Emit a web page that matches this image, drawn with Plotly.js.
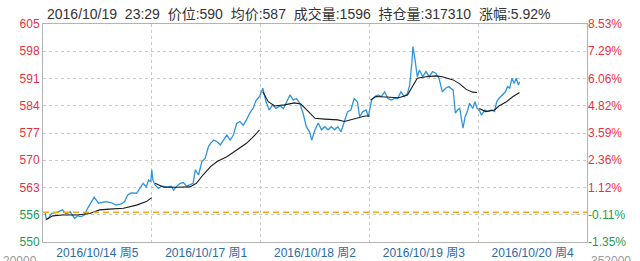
<!DOCTYPE html>
<html>
<head>
<meta charset="utf-8">
<script src="https://cdn.plot.ly/plotly-3.0.1.min.js"></script>
<style>html,body{margin:0;padding:0;background:#fff;}#chart{width:640px;height:261px;}</style>
</head>
<body>
<div id="chart"></div>
<script>
// ---- data ----
const dayLabels = ['2016/10/14 周5', '2016/10/17 周1', '2016/10/18 周2', '2016/10/19 周3', '2016/10/20 周4'];
const prevClose = 557.5;
const yMin = 550, yMax = 605;
const priceTickLabels = ['550', '556', '563', '570', '577', '584', '591', '598', '605'];
const pctTickLabels = ['-1.35%', '-0.11%', '1.12%', '2.36%', '3.59%', '4.82%', '6.06%', '7.29%', '8.53%'];
const bottomLeftLabel = '20000';
const bottomRightLabel = '352000';
const headerText = '2016/10/19\u00a0\u00a023:29\u00a0\u00a0价位:590\u00a0\u00a0均价:587\u00a0\u00a0成交量:1596\u00a0\u00a0持仓量:317310\u00a0\u00a0涨幅:5.92%';

// time index: each trading day spans 100 units
const priceX = [
  2,3,5,8,12,18,21,25,29,32,35,38,41,44,47,51,54,58,63,67,72,75,78,81,86,89,92,95,97,99,100,
  101,103,106,109,114,118,120,123,126,129,132,135,138,140,143,146,149,152,154,157,160,163,166,169,172,175,178,181,184,187,190,193,196,199,
  202,205,208,211,214,218,221,224,227,230,233,236,239,242,245,247,250,253,256,259,262,265,268,271,274,277,280,283,286,289,291,294,297,299,
  302,305,308,311,314,317,320,323,326,329,332,335,337,339,340,342,344,346,349,352,355,358,361,364,367,370,373,377,379,381,383,386,388,390,392,395,397,399,
  401,403,406,409,412,415,417,419,422,425,427,429,431,433,435,437,438
];
const priceY = [
  557.6,555.7,556.0,557.2,557.4,558.1,557.1,557.6,556.0,556.6,556.4,556.8,558.5,559.8,561.3,559.8,559.9,560.2,559.9,559.3,559.6,560.2,561.9,562.4,562.3,563.5,564.8,563.9,565.6,565.2,568.2,
  565.6,564.4,563.5,564.1,563.9,564.1,563.1,564.1,564.8,565.0,564.1,564.4,564.8,568.2,566.9,570.3,571.1,574.0,574.9,575.7,575.3,574.5,575.7,577.0,575.7,577.0,579.9,580.4,579.5,580.8,582.5,583.7,585.8,586.7,
  588.8,585.4,583.3,584.6,583.7,584.3,583.7,585.4,587.1,585.8,586.2,585.0,582.5,579.1,577.8,575.7,578.3,580.0,578.3,579.1,578.3,579.1,578.3,579.1,577.8,580.4,582.9,583.3,586.2,585.4,581.6,582.9,583.3,581.6,
  585.8,586.7,587.1,586.7,587.9,586.2,585.8,586.2,586.2,587.9,586.7,587.5,589.6,595.1,599.3,595.9,591.7,593.4,591.7,593.0,591.7,593.0,592.6,591.3,587.9,588.8,589.2,588.3,582.5,583.3,583.7,578.7,581.6,582.9,585.0,583.7,585.4,583.7,
  583.3,582.0,583.3,582.9,583.3,582.9,585.4,586.2,587.1,587.9,589.2,588.8,591.3,590.0,591.3,589.6,590.4
];
const avgX = [
  3,9,18,31,43,52,61,74,86,95,100,null,
  103,111,123,135,141,147,154,160,169,178,187,195,199,null,
  202,207,213,222,231,237,244,250,259,271,277,287,296,300,null,
  301,306,315,327,335,340,344,352,361,367,377,383,389,395,399,null,
  401,407,415,419,426,432,438
];
const avgY = [
  555.7,556.6,556.8,556.8,557.2,558.1,558.3,558.5,559.3,560.2,561.2,null,
  564.8,563.8,563.8,563.9,564.8,566.9,569.0,570.3,571.5,573.2,574.9,577.0,578.3,null,
  587.9,585.4,584.3,584.6,585.1,584.8,582.9,581.2,581.0,580.8,580.4,581.2,581.8,581.8,null,
  585.8,586.7,586.6,586.4,587.1,589.6,591.3,591.7,591.9,591.7,590.9,589.9,588.5,587.8,587.7,null,
  583.7,582.9,583.3,584.3,585.4,586.7,587.7
];

// ---- styling ----
const RED = '#e8303f', GREEN = '#1f9b4f', XBLUE = '#2c6aa3';
const FONT = '"Liberation Sans", Arial, "Noto Sans CJK SC", sans-serif';
const unitsPerDay = 100;
const xRange = [0, dayLabels.length * unitsPerDay];
const nT = priceTickLabels.length;
const tickVals = priceTickLabels.map((_, i) => yMin + (yMax - yMin) * i / (nT - 1));
const colorOf = v => (v >= prevClose ? RED : GREEN);
const leftText = priceTickLabels.map((t, i) => `<span style="color:${colorOf(tickVals[i])}">${t}</span>`);
const rightText = pctTickLabels.map((t, i) => `<span style="color:${colorOf(tickVals[i])}">${t}</span>`);
const dayCenters = dayLabels.map((_, i) => i * unitsPerDay + unitsPerDay / 2);

const traces = [
  { x: xRange, y: [prevClose, prevClose], yaxis: 'y2', mode: 'lines',
    line: { color: '#f5a81c', width: 1.3, dash: '6px,4px' }, hoverinfo: 'skip' },
  { x: priceX, y: priceY, mode: 'lines', line: { color: '#2f95dd', width: 1.3 }, hoverinfo: 'skip' },
  { x: avgX, y: avgY, mode: 'lines', connectgaps: false, line: { color: '#1a1a1a', width: 1.1 }, hoverinfo: 'skip' }
];

const gridColor = '#c9c9c9';
const layout = {
  width: 640, height: 261,
  margin: { l: 43, r: 53, t: 24, b: 19, pad: 0 },
  paper_bgcolor: '#fff', plot_bgcolor: '#fff',
  showlegend: false,
  font: { family: FONT, size: 12, color: '#333' },
  title: { text: headerText, font: { family: FONT, size: 14, color: '#333' },
           xref: 'container', yref: 'container', x: 47 / 640, xanchor: 'left', y: 1 - 14 / 261, yanchor: 'middle' },
  xaxis: {
    range: xRange, tickmode: 'array', tickvals: dayCenters, ticktext: dayLabels,
    tickfont: { color: XBLUE, size: 12, family: FONT }, ticks: '',
    showgrid: false, zeroline: false, showline: true, mirror: true, linecolor: '#b3b3b3', linewidth: 1,
    minor: { tickmode: 'linear', tick0: 0, dtick: unitsPerDay, showgrid: true, gridcolor: gridColor, griddash: '3px,3px', gridwidth: 1, ticks: '' },
    fixedrange: true
  },
  yaxis: {
    range: [yMin, yMax], tickmode: 'array', tickvals: tickVals, ticktext: leftText,
    tickfont: { size: 12, family: FONT }, ticks: '',
    showgrid: true, gridcolor: gridColor, griddash: '3px,3px', gridwidth: 1,
    zeroline: false, showline: true, mirror: true, linecolor: '#b3b3b3', linewidth: 1, fixedrange: true
  },
  yaxis2: {
    range: [yMin, yMax], overlaying: 'y', side: 'right', tickmode: 'array', tickvals: tickVals, ticktext: rightText,
    tickfont: { size: 12, family: FONT }, ticks: '', showgrid: false, zeroline: false, showline: false, fixedrange: true
  },
  annotations: [
    { text: bottomLeftLabel, xref: 'paper', yref: 'paper', x: -4 / 544, y: -10 / 218, xanchor: 'right', yanchor: 'top',
      showarrow: false, font: { size: 12, color: '#999', family: FONT } },
    { text: bottomRightLabel, xref: 'paper', yref: 'paper', x: 1 + 2 / 544, y: -10 / 218, xanchor: 'left', yanchor: 'top',
      showarrow: false, font: { size: 12, color: '#999', family: FONT } }
  ]
};

Plotly.newPlot('chart', traces, layout, { staticPlot: true, displayModeBar: false });
</script>
</body>
</html>
